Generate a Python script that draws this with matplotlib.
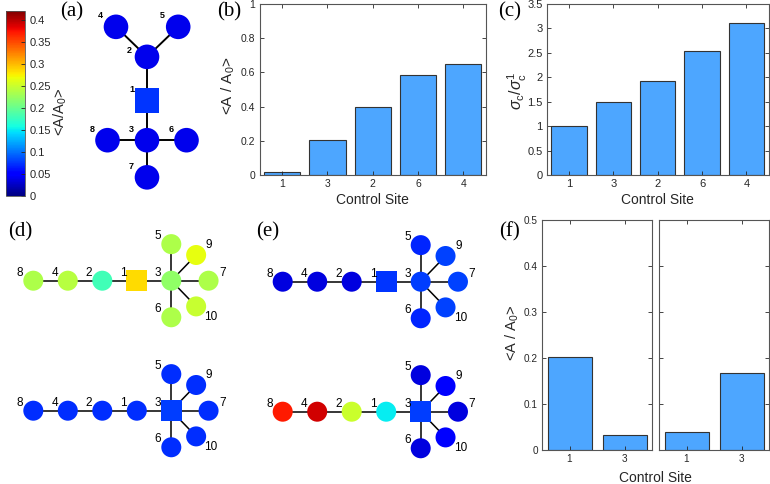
import numpy as np
import matplotlib
matplotlib.use('Agg')
import matplotlib.pyplot as plt
from matplotlib.patches import Circle, Rectangle
from matplotlib import colors, cm

# ---------------- data ----------------
sites_b = ['1', '3', '2', '6', '4']
amp_b = [0.019, 0.204, 0.398, 0.586, 0.647]

sites_c = ['1', '3', '2', '6', '4']
sigma_ratio_c = [1.0, 1.49, 1.93, 2.545, 3.12]

sites_f = ['1', '3']
amp_f_left = [0.203, 0.0325]
amp_f_right = [0.039, 0.168]

cbar_max = 0.42
cbar_ticks = [0, 0.05, 0.1, 0.15, 0.2, 0.25, 0.3, 0.35, 0.4]
cbar_ticklabels = ['0', '0.05', '0.1', '0.15', '0.2', '0.25', '0.3', '0.35', '0.4']

yticks_b = [0, 0.2, 0.4, 0.6, 0.8, 1]
yticklabels_b = ['0', '0.2', '0.4', '0.6', '0.8', '1']
yticks_c = [0, 0.5, 1, 1.5, 2, 2.5, 3, 3.5]
yticklabels_c = ['0', '0.5', '1', '1.5', '2', '2.5', '3', '3.5']
yticks_f = [0, 0.1, 0.2, 0.3, 0.4, 0.5]
yticklabels_f = ['0', '0.1', '0.2', '0.3', '0.4', '0.5']

# graph (a): topology, layout (graph units) and node values
edges_a = [(4, 2), (5, 2), (2, 1), (1, 3), (3, 8), (3, 6), (3, 7)]
layout_a = {1: (0, 0), 2: (0, 1.11), 3: (0, -1), 4: (-0.785, 1.87), 5: (0.79, 1.87),
            6: (1, -1), 7: (0, -1.94), 8: (-1, -1)}
values_a = {1: 0.075, 2: 0.04, 3: 0.04, 4: 0.04, 5: 0.04, 6: 0.04, 7: 0.04, 8: 0.04}

# graphs (d),(e): topology, layout and node values
edges_de = [(8, 4), (4, 2), (2, 1), (1, 3), (3, 5), (3, 9), (3, 7), (3, 10), (3, 6)]
layout_de = {1: (3, 0), 2: (2, 0), 3: (4, 0), 4: (1, 0), 5: (4, 1.06), 6: (4, -1.06),
             7: (5.08, 0), 8: (0, 0), 9: (4.72, 0.745), 10: (4.72, -0.745)}
values_d_top = {1: 0.285, 2: 0.18, 3: 0.22, 4: 0.24, 5: 0.235, 6: 0.235, 7: 0.235,
                8: 0.235, 9: 0.265, 10: 0.248}
values_d_bottom = {1: 0.072, 2: 0.072, 3: 0.078, 4: 0.072, 5: 0.072, 6: 0.072, 7: 0.072,
                   8: 0.072, 9: 0.072, 10: 0.072}
values_e_top = {1: 0.075, 2: 0.035, 3: 0.078, 4: 0.035, 5: 0.068, 6: 0.068, 7: 0.08,
                8: 0.035, 9: 0.08, 10: 0.08}
values_e_bottom = {1: 0.15, 2: 0.25, 3: 0.078, 4: 0.39, 5: 0.035, 6: 0.035, 7: 0.035,
                   8: 0.37, 9: 0.05, 10: 0.05}

# ---------------- style ----------------
plt.rcParams['font.family'] = ['Liberation Sans', 'DejaVu Sans']
plt.rcParams['mathtext.fontset'] = 'custom'
plt.rcParams['mathtext.rm'] = 'Liberation Sans'
plt.rcParams['mathtext.it'] = 'Liberation Sans:italic'
plt.rcParams['mathtext.bf'] = 'Liberation Sans:bold'

W, H = 770, 484
fig = plt.figure(figsize=(W / 100, H / 100), dpi=100)
BAR_COLOR = '#4DA6FF'
EDGE = '#333333'
AXC = '#262626'
norm = colors.Normalize(0, cbar_max)
cmap = plt.get_cmap('jet')


def px_axes(l, t, r, b):
    return fig.add_axes([l / W, 1 - b / H, (r - l) / W, (b - t) / H])


def fig_text(x, y, s, **kw):
    return fig.text(x / W, 1 - y / H, s, **kw)


def style_axes(ax, fs):
    ax.tick_params(direction='in', length=3, width=0.6, top=True, right=True,
                   labelsize=fs, colors=AXC, pad=3)
    for s in ax.spines.values():
        s.set_color('#555555')
        s.set_linewidth(0.8)


# overlay for graphs
gax = fig.add_axes([0, 0, 1, 1])
gax.set_xlim(0, W)
gax.set_ylim(H, 0)
gax.axis('off')
gax.set_zorder(0)


def draw_graph(layout, edges, values, square, origin, scale, radius, side, lw,
               fs, offsets, default_off, bold=False):
    ox, oy = origin
    pos = {k: (ox + v[0] * scale, oy - v[1] * scale) for k, v in layout.items()}
    for a, b in edges:
        gax.plot([pos[a][0], pos[b][0]], [pos[a][1], pos[b][1]], color='k', lw=lw,
                 zorder=2, solid_capstyle='butt')
    for k, (x, y) in pos.items():
        c = cmap(norm(values[k]))
        if k == square:
            gax.add_patch(Rectangle((x - side / 2, y - side / 2), side, side,
                                    facecolor=c, edgecolor='none', zorder=3))
        else:
            gax.add_patch(Circle((x, y), radius, facecolor=c, edgecolor='none', zorder=3))
        dx, dy = offsets.get(k, default_off)
        gax.text(x + dx, y + dy, str(k), fontsize=fs, ha='center', va='center',
                 fontweight='bold' if bold else 'normal', color='k', zorder=4)


off_a = {2: (-17.5, -6)}
draw_graph(layout_a, edges_a, values_a, 1, (147, 100.7), 39.5, 12.3, 24.7, 1.4,
           6.5, off_a, (-15.5, -11), bold=True)

off_de = {9: (13, -10), 7: (14, -8), 10: (15, 10.7)}
draw_graph(layout_de, edges_de, values_d_top, 1, (33.3, 280.7), 34.5, 10, 20.7, 1.1,
           8.5, off_de, (-13.3, -8))
draw_graph(layout_de, edges_de, values_d_bottom, 3, (33.3, 410.7), 34.5, 10, 20.7, 1.1,
           8.5, off_de, (-13.3, -8))
draw_graph(layout_de, edges_de, values_e_top, 1, (282.7, 281.7), 34.5, 10, 20.7, 1.1,
           8.5, off_de, (-13.3, -8))
draw_graph(layout_de, edges_de, values_e_bottom, 3, (282.7, 411.7), 34.5, 10, 20.7, 1.1,
           8.5, off_de, (-13.3, -8))

# colorbar
cax = px_axes(6, 10.7, 25, 196)
sm = cm.ScalarMappable(norm=norm, cmap=cmap)
cb = fig.colorbar(sm, cax=cax, ticks=cbar_ticks)
cb.ax.set_yticklabels(cbar_ticklabels)
cb.ax.tick_params(direction='in', length=3, width=0.6, labelsize=8, colors=AXC, pad=3)
cb.outline.set_linewidth(0.6)
cb.outline.set_edgecolor('#555555')
fig_text(60, 112, '<A/A$_0$>', rotation=90, ha='center', va='center',
         fontsize=10.5, color=AXC)

# (b)
axb = px_axes(259.5, 4, 486, 175)
xb = np.arange(1, len(sites_b) + 1)
axb.bar(xb, amp_b, width=0.8, color=BAR_COLOR, edgecolor=EDGE, linewidth=0.8)
axb.set_xlim(0.5, len(sites_b) + 0.5)
axb.set_ylim(0, 1)
axb.set_xticks(xb)
axb.set_xticklabels(sites_b)
axb.set_yticks(yticks_b)
axb.set_yticklabels(yticklabels_b)
style_axes(axb, 7.5)
axb.set_xlabel('Control Site', fontsize=10, color=AXC, labelpad=3)
fig_text(228, 86, '<A / A$_0$>', rotation=90, ha='center', va='center',
         fontsize=11, color=AXC)

# (c)
axc = px_axes(547, 4, 768.5, 175)
xc = np.arange(1, len(sites_c) + 1)
axc.bar(xc, sigma_ratio_c, width=0.8, color=BAR_COLOR, edgecolor=EDGE, linewidth=0.8)
axc.set_xlim(0.5, len(sites_c) + 0.5)
axc.set_ylim(0, 3.5)
axc.set_xticks(xc)
axc.set_xticklabels(sites_c)
axc.set_yticks(yticks_c)
axc.set_yticklabels(yticklabels_c)
style_axes(axc, 8)
axc.set_xlabel('Control Site', fontsize=10, color=AXC, labelpad=3)
fig_text(517, 91, r'$\sigma_{\rm c}/\sigma^{\rm 1}_{\rm c}$', rotation=90,
         ha='center', va='center', fontsize=11.5, color=AXC)

# (f)
axf1 = px_axes(542, 219.5, 652, 450.3)
axf2 = px_axes(659, 219.5, 769, 450.3)
xf = np.arange(1, len(sites_f) + 1)
for ax, vals in ((axf1, amp_f_left), (axf2, amp_f_right)):
    ax.bar(xf, vals, width=0.8, color=BAR_COLOR, edgecolor=EDGE, linewidth=0.8)
    ax.set_xlim(0.5, len(sites_f) + 0.5)
    ax.set_ylim(0, 0.5)
    ax.set_xticks(xf)
    ax.set_xticklabels(sites_f)
    ax.set_yticks(yticks_f)
    style_axes(ax, 7.2)
axf1.set_yticklabels(yticklabels_f)
axf2.set_yticklabels([])
fig_text(512, 333, '<A / A$_0$>', rotation=90, ha='center', va='center',
         fontsize=10.5, color=AXC)
fig_text(655, 478, 'Control Site', fontsize=10, color=AXC, ha='center', va='center')

# panel labels
for lab, (x, y) in {'(a)': (72, 12), '(b)': (229, 12), '(c)': (510, 12),
                    '(d)': (20, 232), '(e)': (268, 232), '(f)': (510, 232)}.items():
    fig_text(x, y, lab, fontsize=15, family='Liberation Serif',
             ha='center', va='center', color='k')

fig.savefig('out.png', dpi=100)
